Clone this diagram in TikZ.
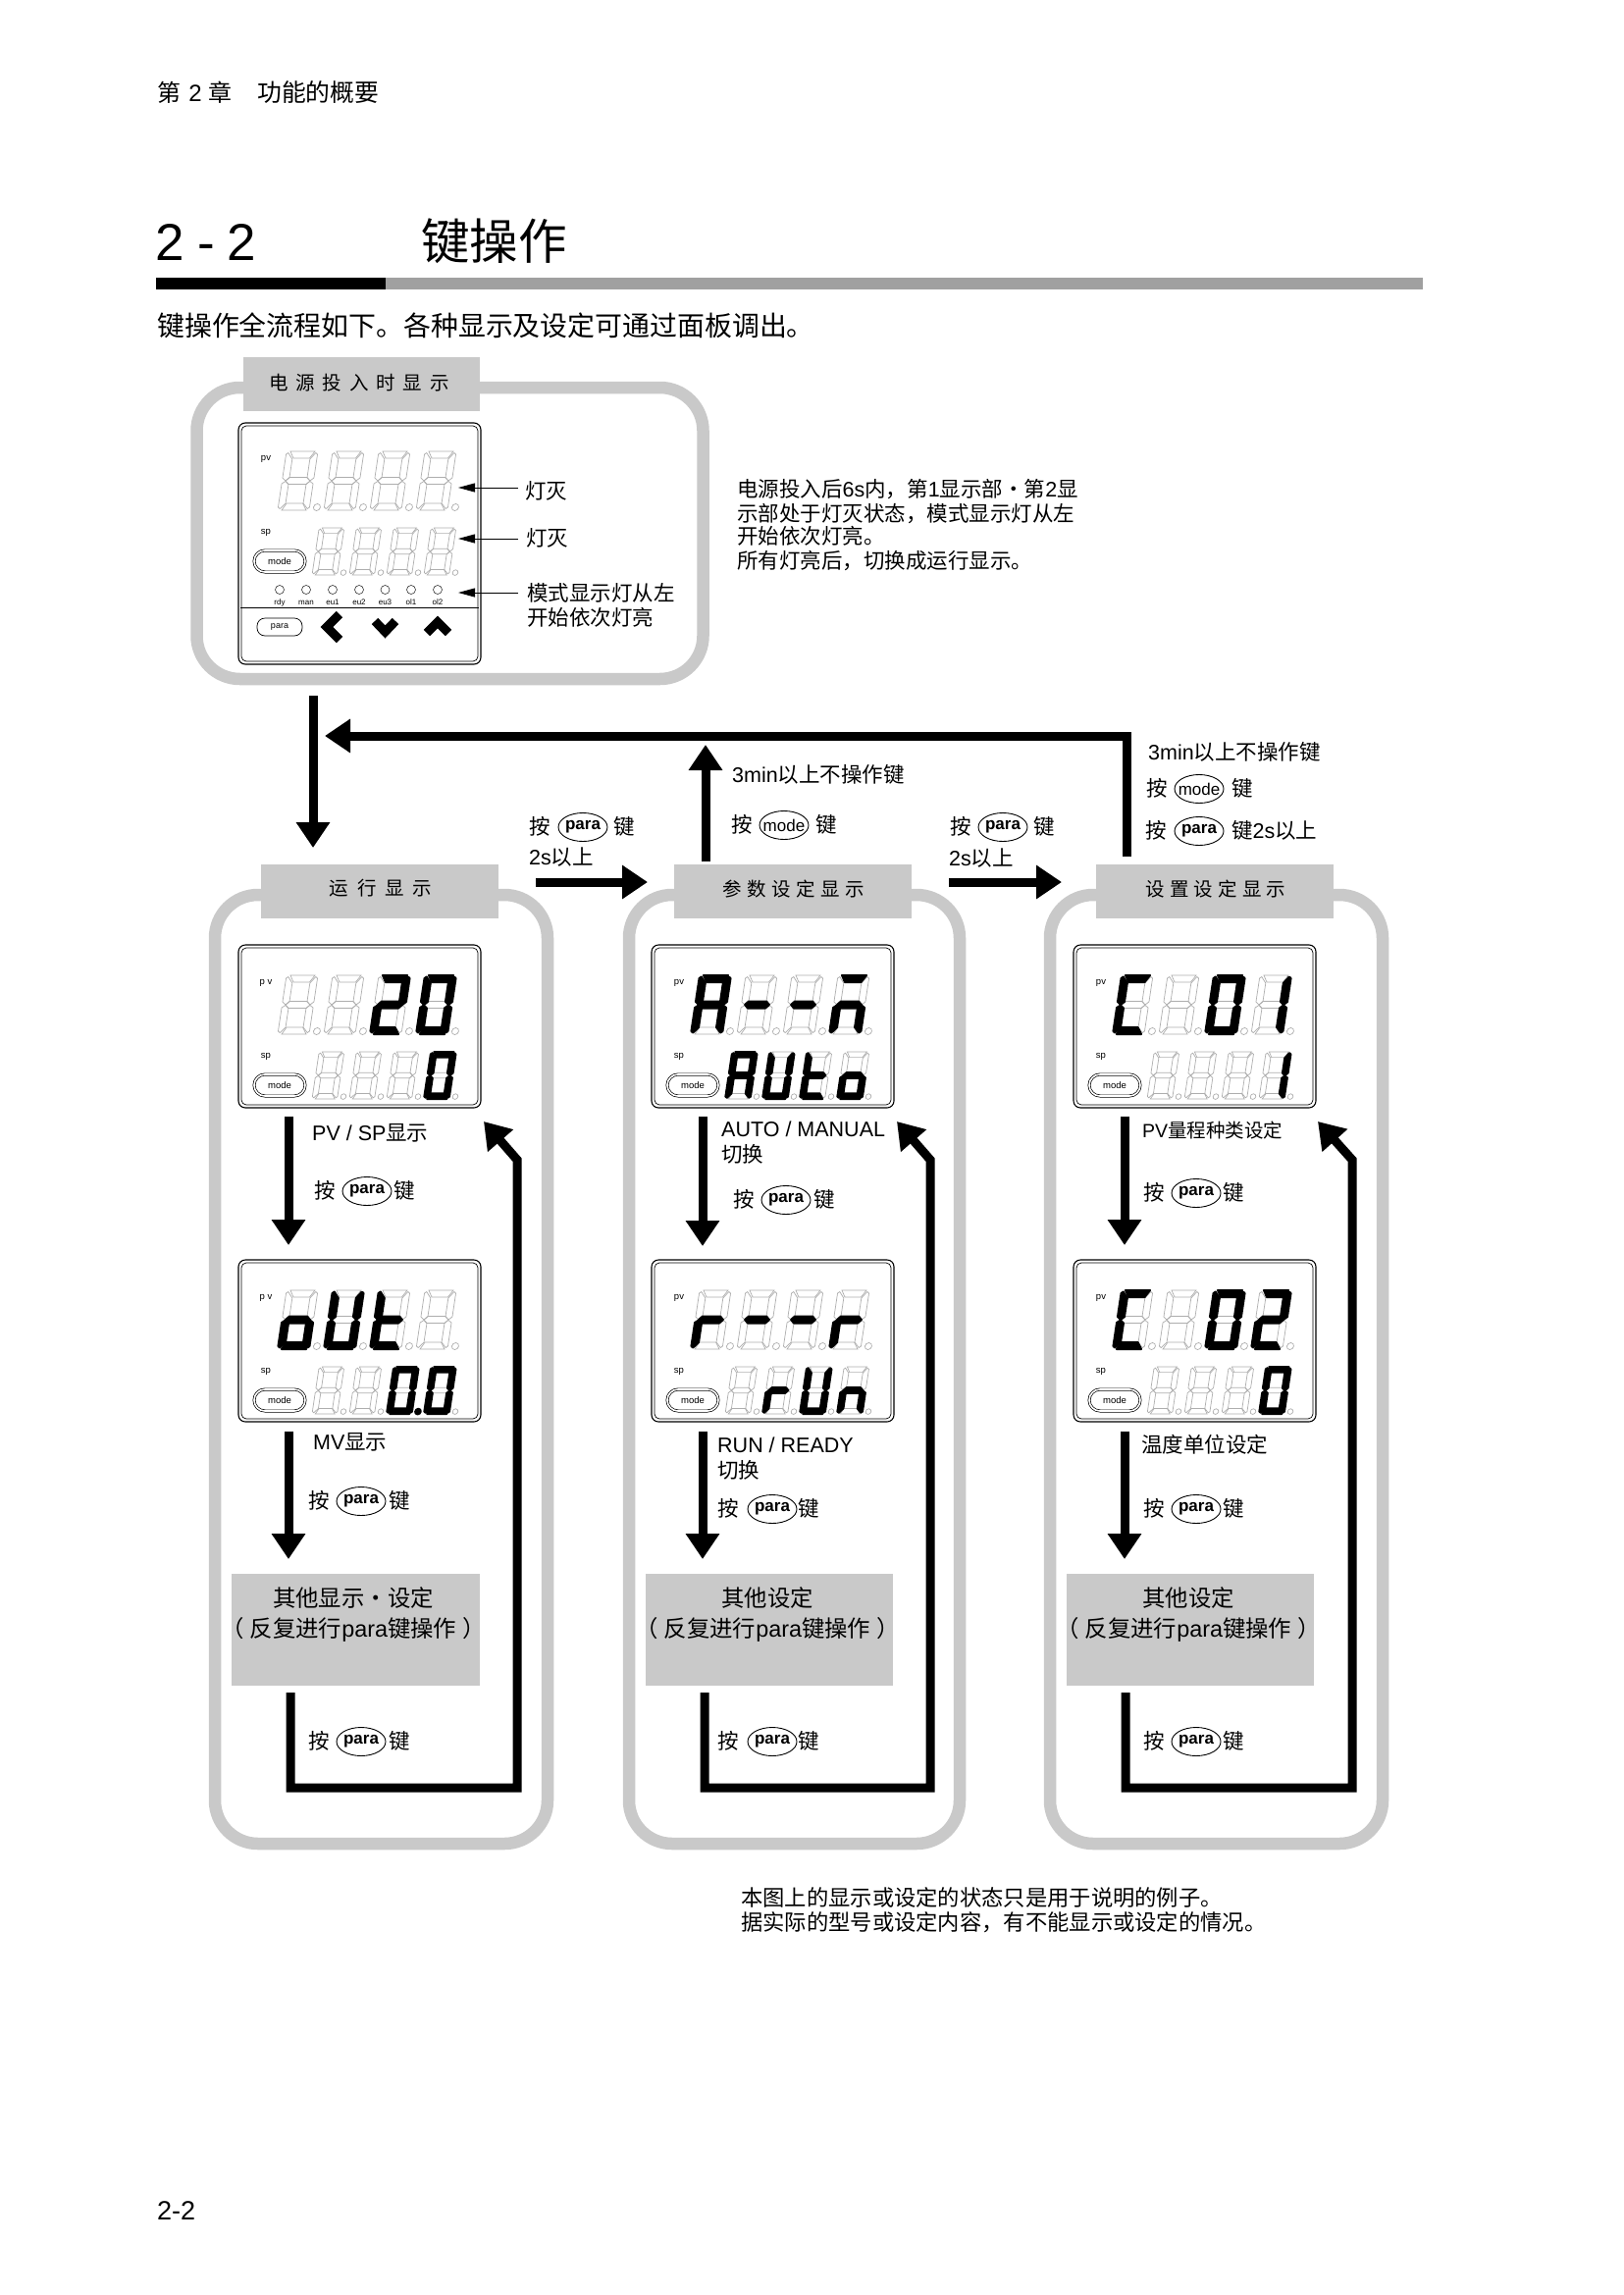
\documentclass[tikz,border=0pt]{standalone}
\usepackage{fontspec}
\setmainfont{Liberation Sans}
\newfontfamily\cjk{Noto Sans CJK SC}
\usetikzlibrary{arrows.meta,shapes.geometric}
\newcommand\Z[1]{{\cjk #1}}
\newcount\lbc
\definecolor{pgray}{HTML}{C9C9C9}
\definecolor{bargray}{HTML}{A0A0A0}
\definecolor{seggray}{HTML}{AEAEAE}
\tikzset{
  panelframe/.style={draw=pgray,line width=12.5pt,rounded corners=44pt},
  graybox/.style={fill=pgray,draw=none,inner sep=0pt},
  lbl/.style={inner sep=0pt,yshift=-7.7pt,font=\fontsize{21.5}{24}\selectfont},
  ttl/.style={inner sep=0pt,font=\fontsize{19.5}{22}\selectfont},
  boxtxt/.style={inner sep=0pt,font=\fontsize{23.4}{26}\selectfont},
  bigarr/.style={line width=9pt,black,line join=miter,-{Triangle[width=33pt,length=26pt]}},
  thinarr/.style={line width=1pt,black,-{Triangle[width=9pt,length=17pt]}},
  keyell/.style={ellipse,draw=black,line width=.9pt,minimum width=50pt,minimum height=29pt,inner sep=0pt},
  keytxt/.style={inner sep=0pt,font=\fontsize{17}{20}\selectfont},
  grayseg/.style={draw=seggray,line width=.7pt},
  blackseg/.style={fill=black,draw=black,line width=2pt,line join=round},
  dispout/.style={draw=black,line width=1.1pt,rounded corners=7pt},
  dispin/.style={draw=black,line width=.7pt,rounded corners=5pt},
  modebtn/.style={draw=black,line width=.7pt,double,double distance=1.6pt,rounded corners=11pt,minimum width=52pt,minimum height=22pt,inner sep=0pt,font=\fontsize{9.5}{11}\selectfont},
  parabtn/.style={draw=black,line width=.7pt,rounded corners=8pt,minimum width=46pt,minimum height=18pt,inner sep=0pt,font=\fontsize{9}{11}\selectfont},
  smalltxt/.style={inner sep=0pt,font=\fontsize{9.5}{11}\selectfont},
  ledtxt/.style={inner sep=0pt,font=\fontsize{8}{9}\selectfont},
  led/.style={draw=black!80,line width=.6pt,circle,minimum size=9pt,inner sep=0pt},
  chev/.style={line width=9pt,black,line join=miter}
}
% seven segment shapes (local unit box 32 x 60)
\expandafter\def\csname dsg@a\endcsname{(4,0)--(29,0)--(24.5,7)--(8,7)--cycle}
\expandafter\def\csname dsg@b\endcsname{(30,1.5)--(32,3)--(32,27)--(28.5,30)--(25,27)--(25,8)--cycle}
\expandafter\def\csname dsg@c\endcsname{(28.5,30.5)--(32,33)--(32,57)--(30,58.5)--(25,53)--(25,33.5)--cycle}
\expandafter\def\csname dsg@d\endcsname{(4,60)--(29,60)--(24.5,53)--(8,53)--cycle}
\expandafter\def\csname dsg@e\endcsname{(3.5,30.5)--(7,33.5)--(7,53)--(2,58.5)--(0,57)--(0,33)--cycle}
\expandafter\def\csname dsg@f\endcsname{(0,3)--(2,1.5)--(7,8)--(7,27)--(3.5,30)--(0,27)--cycle}
\expandafter\def\csname dsg@g\endcsname{(3.5,30)--(7,26.5)--(25,26.5)--(28.5,30)--(25,33.5)--(7,33.5)--cycle}
\expandafter\def\csname dsg@p\endcsname{(39.5,57) circle [radius=3.5pt]}
\expandafter\def\csname dsg@z\endcsname{(0,0)}
\newcommand\segdraw[2]{\edef\tmpz{\noexpand\path[#1] \csname dsg@#2\endcsname;}\tmpz}
\newcommand\dig[4]{%
  \begin{scope}[shift={({#1},{#2})},scale=#3,shift={(9,0)},xslant=.15]
    \foreach \sgn in {a,b,c,d,e,f,g,p}{\segdraw{grayseg}{\sgn}}
    \foreach \sgn in #4{\segdraw{blackseg}{\sgn}}
  \end{scope}}
\newcommand\digrow[5]{\foreach \dl [count=\di from 0] in {#5}{\dig{#1+#3*\di}{#2}{#4}{\dl}}}
\def\pvt{pv}
% display: x0 y0 height digitoffset pvlist splist
\newcommand\dsp[6]{%
  \global\advance\lbc by 1
  \draw[dispout] (#1,#2) rectangle (#1+247,#2+#3);
  \draw[dispin] (#1+3,#2+3) rectangle (#1+244,#2+#3-3);
  \node[smalltxt] (pv\the\lbc) at (#1+28,#2+#4+8) {\pvt};
  \node[smalltxt] (sp\the\lbc) at (#1+28,#2+#4+83) {sp};
  \node[modebtn] (md\the\lbc) at (#1+42,#2+#4+112) {mode};
  \digrow{#1+40}{#2+#4}{47}{1}{#5}
  \digrow{#1+75}{#2+#4+78}{38}{.8}{#6}
}
\newcommand\lab[4][base west]{\global\advance\lbc by 1 \node[lbl,anchor=#1] (t\the\lbc) at (#2,#3) {#4};}
\newcommand\press[5]{%
  \lab[base]{#1}{#4}{\Z{按}}%
  \node[keyell] (k\the\lbc) at (#2,#4) {};
  \node[keytxt] (kt\the\lbc) at (k\the\lbc.center) {#5};
  \lab[base]{#3}{#4}{\Z{键}}}
\newcommand\titlebar[8]{% x1 x2 y1 y2 tx ty spacing text
  \global\advance\lbc by 1
  \node[graybox,minimum width=#2-#1,minimum height=#4-#3] (b\the\lbc) at ({(#1+#2)/2},{(#3+#4)/2}) {};
  \node[ttl] (bt\the\lbc) at (#5,#6) {\cjk\addfontfeature{LetterSpace=#7}#8};}
\newcommand\repeatnote{\Z{（}\kern6pt\Z{反复进行}para\Z{键操作}\kern6pt\Z{）}}
\begin{document}
\begin{tikzpicture}[x=1pt,y=-1pt]
\useasboundingbox (0,0) rectangle (1654,2339);
\fill[white] (0,0) rectangle (1654,2339);
% header
\node[inner sep=0pt,anchor=base west,font=\fontsize{24}{26}\selectfont] (hd1) at (160,103.5) {\Z{第}};
\node[inner sep=0pt,anchor=base,font=\fontsize{24}{26}\selectfont] (hd2) at (199,103.5) {2};
\node[inner sep=0pt,anchor=base,font=\fontsize{24}{26}\selectfont] (hd3) at (224,103.5) {\Z{章}};
\node[inner sep=0pt,anchor=base west,font=\fontsize{24.8}{26}\selectfont] (hd4) at (262,103.5) {\Z{功能的概要}};
\node[inner sep=0pt,anchor=base,font=\fontsize{53}{56}\selectfont] (tl1) at (173,265) {2};
\node[inner sep=0pt,anchor=base,font=\fontsize{53}{56}\selectfont] (tl2) at (210,265) {-};
\node[inner sep=0pt,anchor=base,font=\fontsize{53}{56}\selectfont] (tl3) at (246,265) {2};
\node[inner sep=0pt,anchor=base west,font=\fontsize{49.5}{52}\selectfont] (tl4) at (429,264) {\Z{键操作}};
\fill[black] (159,283) rectangle (393,295);
\fill[bargray] (393,283) rectangle (1450,295);
\node[inner sep=0pt,anchor=base west,font=\fontsize{27.9}{30}\selectfont] (intro) at (160,342) {\Z{键操作全流程如下。各种显示及设定可通过面板调出。}};
% power on panel
\draw[panelframe] (200.5,395) rectangle (716.5,692);
\titlebar{248}{489}{364}{419}{366}{390}{40}{电源投入时显示}
\dsp{243}{431}{246}{29}{{z},{z},{z},{z}}{{z},{z},{z},{z}}
\draw[black,line width=1pt] (245,619) -- (488,619);
\foreach \lx/\lt [count=\li] in {285/rdy,312/man,339/eu1,366/eu2,392.5/eu3,419/ol1,446/ol2}{
  \node[led] (led\li) at (\lx,601) {};
  \node[ledtxt] (ledt\li) at (\lx,614) {\lt};
}
\node[parabtn] (pbtn) at (285,639) {para};
\draw[chev] (346,626) -- (333,639) -- (346,652);
\draw[chev] (382,633) -- (392.5,644) -- (403,633);
\draw[chev] (435,645) -- (446,634) -- (457,645);
\coordinate (an1s) at (528,497); \coordinate (an1e) at (467,497);
\coordinate (an2s) at (528,549); \coordinate (an2e) at (467,549);
\coordinate (an3s) at (528,604); \coordinate (an3e) at (467,604);
\draw[thinarr] (an1s) -- (an1e);
\draw[thinarr] (an2s) -- (an2e);
\draw[thinarr] (an3s) -- (an3e);
\lab{535}{500.5}{\Z{灯灭}}
\lab{536}{549}{\Z{灯灭}}
\lab{537}{605}{\Z{模式显示灯从左}}
\lab{537}{629.5}{\Z{开始依次灯亮}}
\lab{751}{498.5}{\Z{电源投入后}6s\Z{内，第}1\Z{显示部・第}2\Z{显}}
\lab{751}{523.5}{\Z{示部处于灯灭状态，模式显示灯从左}}
\lab{751}{547}{\Z{开始依次灯亮。}}
\lab{751}{572}{\Z{所有灯亮后，切换成运行显示。}}
% column frames
\draw[panelframe] (219,912) rectangle (558,1879);
\draw[panelframe] (641,912) rectangle (978,1879);
\draw[panelframe] (1070,912) rectangle (1409,1879);
\titlebar{266}{508}{881}{936}{388}{905}{46}{运行显示}
\titlebar{687}{929}{881}{936}{809}{906}{28}{参数设定显示}
\titlebar{1117}{1359}{881}{936}{1239}{906}{26}{设置设定显示}
% top connectors
\coordinate (pwrout) at (319,709); \coordinate (runin) at (319,864);
\draw[bigarr] (pwrout) -- (runin);
\coordinate (setoutb) at (1148,873); \coordinate (setcorner) at (1148,750); \coordinate (backtip) at (331,750);
\draw[bigarr] (setoutb) -- (setcorner) -- (backtip);
\coordinate (upb) at (719,878); \coordinate (upt) at (719,759);
\draw[bigarr] (upb) -- (upt);
\coordinate (r1a) at (546,899); \coordinate (r1b) at (660,899);
\draw[bigarr] (r1a) -- (r1b);
\coordinate (r2a) at (967,899); \coordinate (r2b) at (1082,899);
\draw[bigarr] (r2a) -- (r2b);
\press{550}{594}{636}{843}{\bfseries para}
\lab{539}{874}{2s\Z{以上}}
\lab{746}{790}{3min\Z{以上不操作键}}
\press{756}{799}{842}{841}{mode}
\press{979}{1022}{1064}{843}{\bfseries para}
\lab{967}{875}{2s\Z{以上}}
\lab{1170}{767}{3min\Z{以上不操作键}}
\press{1179}{1222}{1266}{804}{mode}
\lab[base]{1178}{847}{\Z{按}}
\node[keyell] (kp9) at (1222,847) {};
\node[keytxt] (kp9t) at (kp9.center) {\bfseries para};
\lab{1255}{847}{\Z{键}2s\Z{以上}}
% displays column 1
\def\pvt{p v}
\dsp{243}{963}{166}{31}{{z},{z},{a,b,g,e,d},{a,b,c,d,e,f}}{{z},{z},{z},{a,b,c,d,e,f}}
\dsp{243}{1284}{165}{31}{{c,d,e,g},{b,c,d,e,f},{d,e,f,g},{z}}{{z},{z},{a,b,c,d,e,f,p},{a,b,c,d,e,f}}
\def\pvt{pv}
% displays column 2
\dsp{664}{963}{166}{31}{{a,b,c,e,f,g},{g},{g},{a,c,e,g}}{{a,b,c,e,f,g},{b,c,d,e,f},{d,e,f,g},{c,d,e,g}}
\dsp{664}{1284}{165}{31}{{e,g},{g},{g},{e,g}}{{z},{e,g},{b,c,d,e,f},{c,e,g}}
% displays column 3
\dsp{1094}{963}{166}{31}{{a,d,e,f},{z},{a,b,c,d,e,f},{b,c}}{{z},{z},{z},{b,c}}
\dsp{1094}{1284}{165}{31}{{a,d,e,f},{z},{a,b,c,d,e,f},{a,b,g,e,d}}{{z},{z},{z},{a,b,c,d,e,f}}
% column 1 flow
\coordinate (c1a) at (294,1138); \coordinate (c1b) at (294,1269);
\draw[bigarr] (c1a) -- (c1b);
\coordinate (c1c) at (294,1459); \coordinate (c1d) at (294,1589);
\draw[bigarr] (c1c) -- (c1d);
\node[graybox,minimum width=253pt,minimum height=114pt] (o1) at (362.5,1661) {};
\node[boxtxt] (o1a) at (360,1629) {\Z{其他显示・设定}};
\node[boxtxt] (o1b) at (360,1661) {\repeatnote};
\coordinate (c1e) at (296,1725); \coordinate (c1f) at (296,1822); \coordinate (c1g) at (527,1822); \coordinate (c1h) at (527,1182); \coordinate (c1i) at (493,1143);
\draw[bigarr] (c1e) -- (c1f) -- (c1g) -- (c1h) -- (c1i);
\lab{318}{1155}{PV / SP\Z{显示}}
\press{331}{374}{412}{1214}{\bfseries para}
\lab{319}{1470}{MV\Z{显示}}
\press{325}{368}{407}{1530}{\bfseries para}
\press{325}{368}{407}{1775}{\bfseries para}
% column 2 flow
\coordinate (c2a) at (716,1138); \coordinate (c2b) at (716,1270);
\draw[bigarr] (c2a) -- (c2b);
\coordinate (c2c) at (716,1459); \coordinate (c2d) at (716,1589);
\draw[bigarr] (c2c) -- (c2d);
\node[graybox,minimum width=252pt,minimum height=114pt] (o2) at (784,1661) {};
\node[boxtxt] (o2a) at (782,1629) {\Z{其他设定}};
\node[boxtxt] (o2b) at (782,1661) {\repeatnote};
\coordinate (c2e) at (718,1725); \coordinate (c2f) at (718,1822); \coordinate (c2g) at (948,1822); \coordinate (c2h) at (948,1182); \coordinate (c2i) at (914,1143);
\draw[bigarr] (c2e) -- (c2f) -- (c2g) -- (c2h) -- (c2i);
\lab{735}{1151}{AUTO / MANUAL}
\lab{735}{1177}{\Z{切换}}
\press{758}{801}{840}{1223}{\bfseries para}
\lab{731}{1473}{RUN / READY}
\lab{731}{1499}{\Z{切换}}
\press{742}{787}{824}{1538}{\bfseries para}
\press{742}{787}{824}{1775}{\bfseries para}
% column 3 flow
\coordinate (c3a) at (1146,1138); \coordinate (c3b) at (1146,1269);
\draw[bigarr] (c3a) -- (c3b);
\coordinate (c3c) at (1146,1459); \coordinate (c3d) at (1146,1589);
\draw[bigarr] (c3c) -- (c3d);
\node[graybox,minimum width=252pt,minimum height=114pt] (o3) at (1213,1661) {};
\node[boxtxt] (o3a) at (1211,1629) {\Z{其他设定}};
\node[boxtxt] (o3b) at (1211,1661) {\repeatnote};
\coordinate (c3e) at (1147,1725); \coordinate (c3f) at (1147,1822); \coordinate (c3g) at (1378,1822); \coordinate (c3h) at (1378,1182); \coordinate (c3i) at (1343,1143);
\draw[bigarr] (c3e) -- (c3f) -- (c3g) -- (c3h) -- (c3i);
\node[lbl,anchor=base west,font=\fontsize{19.5}{22}\selectfont] (pvq) at (1164,1152) {PV\Z{量程种类设定}};
\press{1176}{1219}{1257}{1216}{\bfseries para}
\lab{1163}{1473}{\Z{温度单位设定}}
\press{1176}{1219}{1257}{1538}{\bfseries para}
\press{1176}{1219}{1257}{1775}{\bfseries para}
% notes
\node[lbl,anchor=base west,font=\fontsize{22.3}{24}\selectfont] (nt1) at (755,1934.5) {\Z{本图上的显示或设定的状态只是用于说明的例子。}};
\node[lbl,anchor=base west,font=\fontsize{22.3}{24}\selectfont] (nt2) at (755,1959.5) {\Z{据实际的型号或设定内容，有不能显示或设定的情况。}};
\node[inner sep=0pt,anchor=base west,font=\fontsize{27}{30}\selectfont] (ft) at (160,2262) {2-2};
\end{tikzpicture}
\end{document}
